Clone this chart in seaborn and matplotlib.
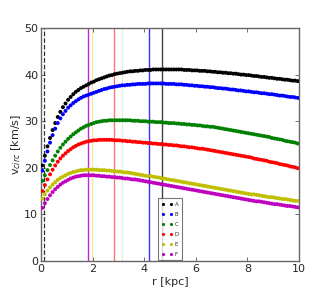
import numpy as np
import pandas as pd
import matplotlib
matplotlib.use("Agg")
import matplotlib.pyplot as plt
from matplotlib.lines import Line2D
import seaborn as sns

## Data: circular velocity curves, sampled every 0.1 kpc

r_kpc = np.round(np.arange(0.05, 10.0, 0.1), 2)

v_A = [20.5, 22.6, 24.6, 26.4, 28.1, 29.6, 30.9, 32.0, 33.0, 33.8,
       34.6, 35.2, 35.8, 36.3, 36.7, 37.1, 37.4, 37.7, 38.0, 38.3,
       38.5, 38.8, 39.0, 39.2, 39.4, 39.6, 39.8, 39.9, 40.1, 40.2,
       40.3, 40.4, 40.5, 40.6, 40.7, 40.7, 40.8, 40.8, 40.9, 40.9,
       41.0, 41.0, 41.0, 41.1, 41.1, 41.1, 41.1, 41.1, 41.1, 41.1,
       41.1, 41.1, 41.1, 41.1, 41.1, 41.0, 41.0, 41.0, 40.9, 40.9,
       40.9, 40.8, 40.8, 40.8, 40.7, 40.7, 40.6, 40.6, 40.5, 40.5,
       40.4, 40.4, 40.3, 40.3, 40.2, 40.2, 40.1, 40.0, 40.0, 39.9,
       39.9, 39.8, 39.7, 39.7, 39.6, 39.5, 39.5, 39.4, 39.3, 39.3,
       39.2, 39.1, 39.1, 39.0, 38.9, 38.9, 38.8, 38.7, 38.7, 38.6]

v_B = [19.4, 21.5, 23.5, 25.4, 27.0, 28.4, 29.6, 30.6, 31.5, 32.2,
       32.9, 33.4, 33.9, 34.3, 34.7, 35.0, 35.3, 35.5, 35.7, 35.9,
       36.1, 36.3, 36.5, 36.7, 36.9, 37.0, 37.2, 37.3, 37.4, 37.5,
       37.6, 37.7, 37.7, 37.8, 37.8, 37.9, 37.9, 38.0, 38.0, 38.0,
       38.0, 38.1, 38.1, 38.1, 38.1, 38.1, 38.1, 38.1, 38.0, 38.0,
       38.0, 38.0, 37.9, 37.9, 37.9, 37.8, 37.8, 37.7, 37.7, 37.6,
       37.6, 37.5, 37.5, 37.4, 37.4, 37.3, 37.3, 37.2, 37.1, 37.1,
       37.0, 37.0, 36.9, 36.8, 36.8, 36.7, 36.6, 36.6, 36.5, 36.4,
       36.4, 36.3, 36.2, 36.2, 36.1, 36.0, 36.0, 35.9, 35.8, 35.8,
       35.7, 35.6, 35.5, 35.5, 35.4, 35.3, 35.2, 35.2, 35.1, 35.0]

v_C = [17.2, 18.4, 19.5, 20.6, 21.6, 22.6, 23.5, 24.3, 25.0, 25.6,
       26.2, 26.7, 27.2, 27.6, 28.0, 28.4, 28.7, 29.0, 29.2, 29.4,
       29.6, 29.8, 29.9, 30.0, 30.1, 30.1, 30.2, 30.2, 30.2, 30.2,
       30.2, 30.2, 30.2, 30.2, 30.2, 30.1, 30.1, 30.1, 30.0, 30.0,
       30.0, 29.9, 29.9, 29.9, 29.8, 29.8, 29.8, 29.7, 29.7, 29.6,
       29.6, 29.6, 29.5, 29.5, 29.4, 29.4, 29.3, 29.3, 29.2, 29.2,
       29.1, 29.1, 29.0, 28.9, 28.9, 28.8, 28.8, 28.7, 28.6, 28.5,
       28.4, 28.3, 28.2, 28.1, 28.0, 27.9, 27.8, 27.7, 27.6, 27.5,
       27.4, 27.3, 27.2, 27.1, 27.0, 26.9, 26.8, 26.7, 26.6, 26.4,
       26.3, 26.2, 26.1, 26.0, 25.8, 25.7, 25.6, 25.5, 25.4, 25.2]

v_D = [15.0, 16.3, 17.5, 18.6, 19.6, 20.5, 21.3, 22.0, 22.6, 23.1,
       23.6, 24.0, 24.4, 24.7, 25.0, 25.2, 25.4, 25.6, 25.7, 25.8,
       25.9, 25.9, 26.0, 26.0, 26.0, 26.0, 26.0, 26.0, 25.9, 25.9,
       25.9, 25.8, 25.8, 25.7, 25.7, 25.6, 25.6, 25.5, 25.5, 25.4,
       25.4, 25.3, 25.3, 25.2, 25.2, 25.1, 25.1, 25.0, 25.0, 24.9,
       24.9, 24.8, 24.8, 24.7, 24.6, 24.6, 24.5, 24.4, 24.4, 24.3,
       24.2, 24.1, 24.1, 24.0, 23.9, 23.8, 23.7, 23.6, 23.5, 23.4,
       23.3, 23.2, 23.1, 23.0, 22.9, 22.8, 22.7, 22.6, 22.5, 22.4,
       22.3, 22.2, 22.0, 21.9, 21.8, 21.7, 21.6, 21.5, 21.3, 21.2,
       21.1, 21.0, 20.8, 20.7, 20.6, 20.5, 20.3, 20.2, 20.1, 19.9]

v_E = [13.4, 14.3, 15.1, 15.8, 16.4, 16.9, 17.4, 17.8, 18.1, 18.4,
       18.7, 18.9, 19.1, 19.2, 19.4, 19.5, 19.5, 19.6, 19.6, 19.6,
       19.6, 19.6, 19.5, 19.5, 19.5, 19.4, 19.4, 19.3, 19.3, 19.2,
       19.2, 19.1, 19.0, 19.0, 18.9, 18.8, 18.7, 18.6, 18.5, 18.4,
       18.3, 18.2, 18.2, 18.1, 18.0, 17.9, 17.8, 17.7, 17.6, 17.5,
       17.4, 17.3, 17.2, 17.1, 17.0, 16.9, 16.8, 16.7, 16.6, 16.5,
       16.4, 16.3, 16.2, 16.1, 16.0, 15.9, 15.8, 15.7, 15.6, 15.5,
       15.4, 15.3, 15.2, 15.1, 15.0, 14.9, 14.8, 14.7, 14.6, 14.5,
       14.4, 14.3, 14.3, 14.2, 14.1, 14.0, 13.9, 13.8, 13.7, 13.7,
       13.6, 13.5, 13.4, 13.3, 13.3, 13.2, 13.1, 13.0, 12.9, 12.9]

v_F = [11.4, 12.4, 13.3, 14.1, 14.8, 15.4, 15.9, 16.4, 16.8, 17.1,
       17.4, 17.7, 17.9, 18.1, 18.2, 18.3, 18.4, 18.4, 18.4, 18.4,
       18.4, 18.3, 18.3, 18.2, 18.2, 18.1, 18.1, 18.0, 18.0, 17.9,
       17.9, 17.8, 17.7, 17.7, 17.6, 17.5, 17.5, 17.4, 17.3, 17.2,
       17.1, 17.0, 16.9, 16.8, 16.7, 16.6, 16.5, 16.4, 16.3, 16.2,
       16.1, 16.0, 15.9, 15.8, 15.7, 15.6, 15.5, 15.4, 15.3, 15.2,
       15.1, 15.0, 14.9, 14.8, 14.7, 14.6, 14.5, 14.4, 14.3, 14.2,
       14.1, 14.0, 13.9, 13.8, 13.7, 13.6, 13.5, 13.4, 13.3, 13.2,
       13.1, 13.0, 12.9, 12.8, 12.8, 12.7, 12.6, 12.5, 12.4, 12.3,
       12.2, 12.2, 12.1, 12.0, 11.9, 11.8, 11.8, 11.7, 11.6, 11.5]

labels = ["A", "B", "C", "D", "E", "F"]
curves = [v_A, v_B, v_C, v_D, v_E, v_F]
colors = ["k", "b", "g", "r", "y", "m"]

# radii of the vertical markers (one per curve) + the dashed inner one
r_marks = [4.7, 4.2, 3.14, 2.84, 1.99, 1.83]
r_inner = 0.12

## Plot

sns.set_style("ticks")
plt.rcParams["font.family"] = ["DejaVu Sans"]
plt.rcParams["xtick.direction"] = "in"
plt.rcParams["ytick.direction"] = "in"

df = pd.concat([pd.DataFrame({"r": r_kpc, "v": v, "model": lab})
                for lab, v in zip(labels, curves)], ignore_index=True)

fig = plt.figure(figsize=(3.32, 2.91), dpi=100)
ax = fig.add_axes([0.1235, 0.1031, 0.7771, 0.8007])

mark_alpha = [0.75, 0.8, 0.12, 0.55, 0.3, 0.85]
for x, c, a in zip(r_marks, colors, mark_alpha):
    ax.axvline(x, color=c, lw=1.0, alpha=a, zorder=1)
ax.axvline(r_inner, color="k", lw=0.9, ls="--", alpha=0.8, zorder=1)

palette = dict(zip(labels, colors))
sns.scatterplot(data=df, x="r", y="v", hue="model", palette=palette,
                s=8, linewidth=0, legend=False, ax=ax, zorder=3)

ax.set_xlim(0, 10)
ax.set_ylim(0, 50)
ax.set_xticks([0, 2, 4, 6, 8, 10])
ax.set_yticks([0, 10, 20, 30, 40, 50])
ax.tick_params(top=True, right=True, labelsize=8, length=3, width=0.6,
               color="#555555", pad=2)
for sp in ax.spines.values():
    sp.set_color("#666666")
    sp.set_linewidth(1.0)

ax.set_xlabel("r [kpc]", fontsize=8, labelpad=2)
ax.set_ylabel(r"v$_{circ}$ [km/s]", fontsize=8, labelpad=1)

handles = [Line2D([], [], color=c, marker=".", ls="", markersize=2.5)
           for c in colors]
leg = ax.legend(handles, labels, loc="lower center", numpoints=2,
                fontsize=4, frameon=True, fancybox=False,
                borderpad=0.6, labelspacing=0.9, handlelength=2.0,
                handletextpad=0.4, borderaxespad=0.2)
leg.get_frame().set_edgecolor("#555555")
leg.get_frame().set_linewidth(0.8)

fig.savefig("out.png", dpi=100)
